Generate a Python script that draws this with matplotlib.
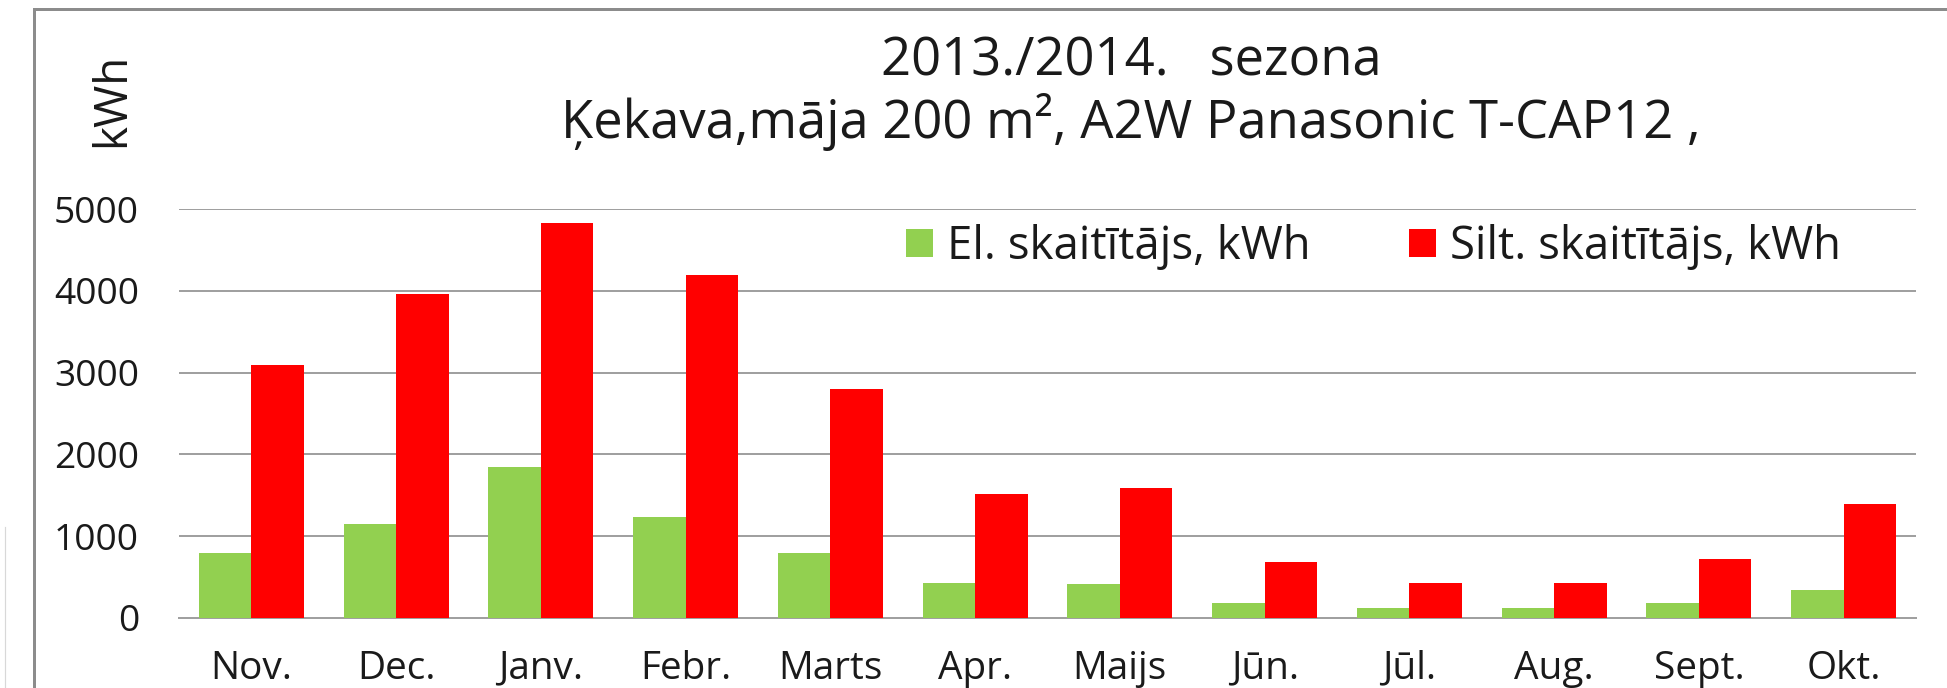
#!/usr/bin/env python3
"""Monthly electricity vs heat meter readings, 2013/2014 season."""

import matplotlib

matplotlib.use("Agg")
import matplotlib.pyplot as plt
import numpy as np
from matplotlib.lines import Line2D
from matplotlib.patches import Rectangle

months = ["Nov.", "Dec.", "Janv.", "Febr.", "Marts", "Apr.", "Maijs",
          "Jūn.", "Jūl.", "Aug.", "Sept.", "Okt."]
el_kwh = [790, 1150, 1840, 1230, 790, 430, 410, 185, 120, 120, 185, 345]
silt_kwh = [3090, 3960, 4830, 4200, 2800, 1520, 1590, 680, 430, 430, 720, 1390]
series_labels = ["El. skaitītājs, kWh", "Silt. skaitītājs, kWh"]
yticks = [0, 1000, 2000, 3000, 4000, 5000]
title_lines = ["2013./2014.   sezona", "Ķekava,māja 200 m², A2W Panasonic T-CAP12 ,"]
ylabel = "kWh"

GREEN = "#92D050"
RED = "#FF0000"
GRID = "#A0A0A0"
TEXT = "#1A1A1A"
FAMILY = ["Open Sans", "DejaVu Sans"]

plt.rcParams["font.family"] = FAMILY

W, H = 1947, 688
PT = 72 / 100  # points per pixel at dpi 100
fig = plt.figure(figsize=(W / 100, H / 100), dpi=100)
renderer = fig.canvas.get_renderer()


def fit_size(text: str, target_px: float, base: float = 30.0) -> float:
    """Font size (pt) that makes `text` about target_px wide."""
    t = fig.text(0, 0, text, fontsize=base)
    width = t.get_window_extent(renderer).width
    t.remove()
    return base * target_px / width


title_fs = fit_size(title_lines[1], 1142)
ytick_fs = fit_size("5000", 85)
xtick_fs = fit_size("Janv.", 85)
legend_fs = fit_size(series_labels[0], 362)
ylabel_fs = fit_size(ylabel, 94)

ax = fig.add_axes([179 / W, 1 - 617.7 / H, (1916 - 179) / W, (617.7 - 209.3) / H])

x = np.arange(len(months))
bw = 0.362
ax.bar(x - bw / 2, el_kwh, bw, color=GREEN, label=series_labels[0], zorder=3)
ax.bar(x + bw / 2, silt_kwh, bw, color=RED, label=series_labels[1], zorder=3)

ax.set_xlim(-0.5, len(months) - 0.5)
ax.set_ylim(0, 5000)
ax.set_yticks(yticks)
ax.set_yticklabels([str(v) for v in yticks])
ax.set_xticks(x)
ax.set_xticklabels(months)
ax.tick_params(axis="y", length=0, pad=40 * PT, labelsize=ytick_fs, labelcolor=TEXT)
ax.tick_params(axis="x", length=0, pad=32 * PT, labelsize=xtick_fs, labelcolor=TEXT)
ax.grid(axis="y", color=GRID, linewidth=2 * PT, zorder=0)
for side in ["left", "right", "top"]:
    ax.spines[side].set_visible(False)
ax.spines["bottom"].set_color(GRID)
ax.spines["bottom"].set_linewidth(2 * PT)
ax.set_facecolor("none")

fs_px = legend_fs / PT
ax.legend(loc="center left", bbox_to_anchor=(906 / W, 1 - 247 / H),
          bbox_transform=fig.transFigure, ncol=2, frameon=False,
          fontsize=legend_fs, borderpad=0, borderaxespad=0,
          handlelength=27 / fs_px, handleheight=25 / fs_px,
          handletextpad=14 / fs_px, columnspacing=98 / fs_px,
          labelcolor=TEXT)

fig.text(1131 / W, 1 - 75 / H, title_lines[0], ha="center", va="baseline",
         fontsize=title_fs, color=TEXT)
fig.text(1131 / W, 1 - 138 / H, title_lines[1], ha="center", va="baseline",
         fontsize=title_fs, color=TEXT)
fig.text(124 / W, 1 - 100 / H, ylabel, rotation=90, rotation_mode="anchor",
         ha="center", va="baseline", fontsize=ylabel_fs, color=TEXT)

# outer chart frame (cropped at right and bottom)
fig.patches.append(Rectangle((33.5 / W, -0.1), 1.2, 1.1 - 9.5 / H,
                             transform=fig.transFigure, fill=False,
                             edgecolor="#8C8C8C", linewidth=3 * PT))
fig.lines.append(Line2D([5 / W, 5 / W], [0, 1 - 527 / H],
                        transform=fig.transFigure, color="#D8D8D8",
                        linewidth=1.2 * PT))

fig.savefig("out.png", dpi=100)
